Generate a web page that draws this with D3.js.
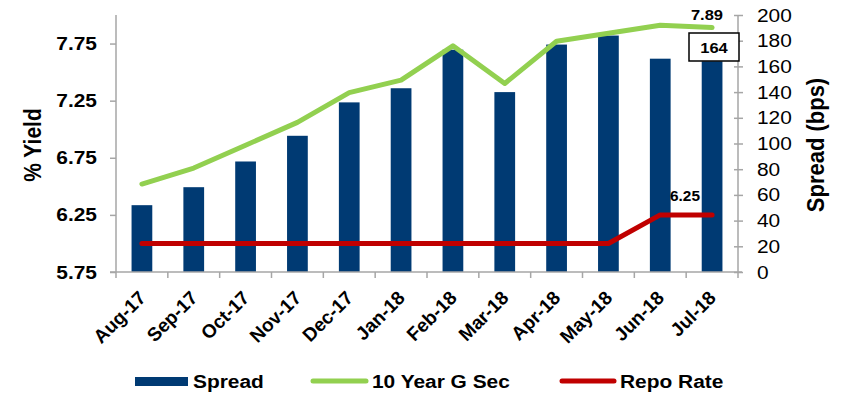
<!DOCTYPE html>
<html><head><meta charset="utf-8">
<script src="https://cdn.jsdelivr.net/npm/d3@7"></script>
<style>body{margin:0;background:#fff}svg{display:block;font-family:"Liberation Sans",Arial,sans-serif}</style>
</head><body><svg id="c" width="844" height="394"></svg>
<script>
const categories=["Aug-17","Sep-17","Oct-17","Nov-17","Dec-17","Jan-18","Feb-18","Mar-18","Apr-18","May-18","Jun-18","Jul-18"];
const spread=[52,66,86,106,132,143,173,140,177,184,166,164];
const gsec=[6.52,6.66,6.86,7.06,7.32,7.43,7.73,7.40,7.77,7.84,7.91,7.89];
const repo=[6.00,6.00,6.00,6.00,6.00,6.00,6.00,6.00,6.00,6.00,6.25,6.25];
const leftTicks=[5.75,6.25,6.75,7.25,7.75];
const rightTicks=[0,20,40,60,80,100,120,140,160,180,200];

const svg=d3.select("#c");
const L=116,R=738,T=15,B=272;
const SX=1.1;
// horizontal stretch about the text's anchor x
function stretch(sel){
  sel.each(function(){
    const t=d3.select(this);
    const ax=+(t.attr("x")||0);
    t.attr("transform",`matrix(${SX},0,0,1,${(1-SX)*ax},0)`);
  });
}
const x=d3.scaleBand().domain(categories).range([L,R]).paddingInner(0.6).paddingOuter(0.3);
const xc=d=>x(d)+x.bandwidth()/2;
const yL=d3.scaleLinear().domain([5.75,8.0]).range([B,T]);
const yR=d3.scaleLinear().domain([0,200]).range([B,T]);
const grey="#a6a6a6";

// bars
svg.append("g").selectAll("rect").data(categories).join("rect")
 .attr("x",d=>x(d)).attr("width",x.bandwidth())
 .attr("y",(d,i)=>yR(spread[i])).attr("height",(d,i)=>B-yR(spread[i]))
 .attr("fill","#003a73");

// left axis
const gl=svg.append("g").attr("transform",`translate(${L},0)`)
 .call(d3.axisLeft(yL).tickValues(leftTicks).tickSize(6).tickPadding(13).tickFormat(d3.format(".2f")));
gl.select(".domain").attr("stroke",grey).attr("stroke-width",1.5).attr("d",`M0,${T}V${B}`);
gl.selectAll(".tick line").attr("stroke",grey).attr("stroke-width",1.5);
gl.selectAll("text").attr("font-size",19).attr("font-weight","bold").attr("fill","#000").call(stretch);

// right axis
const gr=svg.append("g").attr("transform",`translate(${R},0)`)
 .call(d3.axisRight(yR).tickValues(rightTicks).tickSize(5).tickPadding(14));
gr.select(".domain").attr("stroke",grey).attr("stroke-width",1.5).attr("d",`M0,${T}V${B}`);
gr.selectAll(".tick line").attr("stroke",grey).attr("stroke-width",1.5).attr("x1",-4);
gr.selectAll("text").attr("font-size",19).attr("fill","#000").call(stretch);

// x axis
svg.append("line").attr("x1",L-6).attr("x2",R+4).attr("y1",B).attr("y2",B).attr("stroke",grey).attr("stroke-width",1.5);
const bounds=d3.range(categories.length+1).map(i=>L+i*(R-L)/categories.length);
svg.append("g").selectAll("line").data(bounds).join("line")
 .attr("x1",d=>d).attr("x2",d=>d).attr("y1",B).attr("y2",B+6).attr("stroke",grey).attr("stroke-width",1.5);
svg.append("g").selectAll("text").data(categories).join("text")
 .attr("transform",d=>`translate(${xc(d)+5},${B+27}) rotate(-45)`)
 .attr("text-anchor","end").attr("font-size",19).attr("font-weight","bold").text(d=>d);

// lines
const line=(arr)=>d3.line().x((d,i)=>xc(categories[i])).y(d=>yL(d))(arr);
svg.append("path").attr("d",line(repo)).attr("fill","none").attr("stroke","#c00000").attr("stroke-width",5).attr("stroke-linecap","round").attr("stroke-linejoin","round");
svg.append("path").attr("d",line(gsec)).attr("fill","none").attr("stroke","#92d050").attr("stroke-width",5).attr("stroke-linecap","round").attr("stroke-linejoin","round");

// labels
const last=categories.length-1;
svg.append("text").attr("x",707).attr("y",20).attr("text-anchor","middle")
 .attr("font-size",15).attr("font-weight","bold").text(gsec[last].toFixed(2)).call(stretch);
svg.append("rect").attr("x",689).attr("y",33).attr("width",50).attr("height",28).attr("fill","#fff").attr("stroke","#000").attr("stroke-width",1.5);
svg.append("text").attr("x",714).attr("y",53).attr("text-anchor","middle").attr("font-size",15).attr("font-weight","bold").text(spread[last]).call(stretch);
svg.append("text").attr("x",685).attr("y",201).attr("text-anchor","middle")
 .attr("font-size",14).attr("font-weight","bold").text(repo[last].toFixed(2)).call(stretch);

// axis titles
svg.append("text").attr("transform","translate(41,145) rotate(-90) scale(1,1.1)").attr("text-anchor","middle")
 .attr("font-size",21).attr("font-weight","bold").text("% Yield");
svg.append("text").attr("transform","translate(824,145) rotate(-90) scale(1,1.1)").attr("text-anchor","middle")
 .attr("font-size",22).attr("font-weight","bold").text("Spread (bps)");

// legend
const lg=svg.append("g");
lg.append("rect").attr("x",135).attr("y",377).attr("width",53).attr("height",9).attr("fill","#003a73");
lg.append("line").attr("x1",313).attr("x2",366).attr("y1",381).attr("y2",381).attr("stroke","#92d050").attr("stroke-width",5).attr("stroke-linecap","round");
lg.append("line").attr("x1",562).attr("x2",614).attr("y1",381).attr("y2",381).attr("stroke","#c00000").attr("stroke-width",5).attr("stroke-linecap","round");
lg.selectAll("text").data([["Spread",193],["10 Year G Sec",372],["Repo Rate",620]]).join("text")
 .attr("x",d=>d[1]).attr("y",388).attr("font-size",19).attr("font-weight","bold").text(d=>d[0]).call(stretch);
</script></body></html>
